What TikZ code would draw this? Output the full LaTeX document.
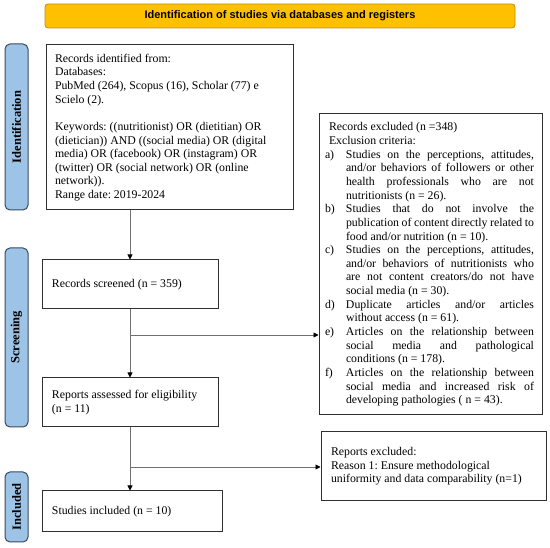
\documentclass[tikz,border=0pt]{standalone}
\usepackage{fontspec}
\setmainfont{Liberation Serif}
\setsansfont{Liberation Sans}
\usetikzlibrary{arrows.meta}
\definecolor{gold}{HTML}{FFC000}
\definecolor{goldline}{HTML}{C09100}
\definecolor{barfill}{HTML}{9DC3E6}
\definecolor{barline}{HTML}{3A4A5C}
\definecolor{conn}{HTML}{707070}
\definecolor{boxline}{HTML}{303030}
\frenchspacing
\newcommand\exitem[2]{\makebox[21pt][l]{#1}\makebox[188pt][s]{#2}}
\newcommand\exjust[1]{\hspace*{21pt}\makebox[188pt][s]{#1}}
\newcommand\exlast[1]{\hspace*{21pt}\makebox[188pt][l]{#1}}
\begin{document}
\begin{tikzpicture}[x=1pt,y=-1pt,
 box/.style={draw=boxline, line width=1pt, inner ysep=0pt, align=left,
   font=\fontsize{11.8}{13.65}\selectfont,
   execute at begin node={\spaceskip=0pt\xspaceskip=0pt}},
 bar/.style={draw=barline, fill=barfill, rounded corners=5pt, line width=1pt,
   inner sep=0pt, rotate=90, font=\fontsize{12.5}{14}\selectfont\bfseries},
 titlebox/.style={draw=goldline, fill=gold, rounded corners=3pt, line width=0.8pt,
   inner sep=0pt, font=\sffamily\bfseries\fontsize{11}{13}\selectfont},
 link/.style={draw=conn, line width=0.9pt},
 arr/.style={link, -{Triangle[color=black,length=5pt,width=5pt]}}
]
\useasboundingbox (0,0) rectangle (550,548);
\fill[white] (0,0) rectangle (550,548);

% title
\node[titlebox, minimum width=470pt, minimum height=24pt] (title) at (280,16)
  {Identification of studies via databases and registers};

% side bars
\node[bar, minimum width=166pt, minimum height=23pt] (idbar) at (16.5,127) {Identification};
\node[bar, minimum width=179pt, minimum height=23pt] (scbar) at (16.5,337.5) {Screening};
\node[bar, minimum width=70pt, minimum height=23pt] (inbar) at (16.5,507) {Included};

% boxes
\node[box, inner xsep=9pt, text width=229pt, minimum width=247pt, minimum height=165pt]
  (ident) at (169.5,127.5)
  {Records identified from:\\
   Databases:\\
   PubMed (264), Scopus (16), Scholar (77) e\\
   Scielo (2).\\[13.65pt]
   Keywords: ((nutritionist) OR (dietitian) OR\\
   (dietician)) AND ((social media) OR (digital\\
   media) OR (facebook) OR (instagram) OR\\
   (twitter) OR (social network) OR (online\\
   network)).\\
   Range date: 2019-2024};

\node[box, inner xsep=10pt, text width=156pt, minimum width=176pt, minimum height=49pt]
  (screen) at (130,284.5) {Records screened (n = 359)};

\node[box, inner xsep=10pt, text width=156pt, minimum width=176pt, minimum height=49pt]
  (assess) at (130,402.5) {Reports assessed for eligibility\\(n = 11)};

\node[box, inner xsep=10pt, text width=160pt, minimum width=180pt, minimum height=41pt]
  (incl) at (132,511.5) {Studies included (n = 10)};

\node[box, inner xsep=6pt, text width=211pt, minimum width=223pt, minimum height=301pt]
  (excl) at (430.5,264.5)
  {\hspace*{4pt}Records excluded (n =348)\\
   \hspace*{4pt}Exclusion criteria:\\
   \exitem{a)}{Studies on the perceptions, attitudes,}\\
   \exjust{and/or behaviors of followers or other}\\
   \exjust{health professionals who are not}\\
   \exlast{nutritionists (n = 26).}\\
   \exitem{b)}{Studies that do not involve the}\\
   \exjust{publication of content directly related to}\\
   \exlast{food and/or nutrition (n = 10).}\\
   \exitem{c)}{Studies on the perceptions, attitudes,}\\
   \exjust{and/or behaviors of nutritionists who}\\
   \exjust{are not content creators/do not have}\\
   \exlast{social media (n = 30).}\\
   \exitem{d)}{Duplicate articles and/or articles}\\
   \exlast{without access (n = 61).}\\
   \exitem{e)}{Articles on the relationship between}\\
   \exjust{social media and pathological}\\
   \exlast{conditions (n = 178).}\\
   \exitem{f)}{Articles on the relationship between}\\
   \exjust{social media and increased risk of}\\
   \exlast{developing pathologies ( n = 43).}};

\node[box, inner xsep=10pt, text width=205pt, minimum width=225pt, minimum height=69pt]
  (rex) at (433.5,466.5)
  {Reports excluded:\\
   Reason 1: Ensure methodological\\
   uniformity and data comparability (n=1)};

% connectors
\coordinate (br1) at (130,335);
\coordinate (br2) at (130,467);
\draw[arr] (ident.south -| screen.north) -- (screen.north);
\draw[arr] (screen.south) -- (assess.north);
\draw[arr] (br1) -- (br1 -| excl.west);
\draw[arr] (assess.south) -- (assess.south |- incl.north);
\draw[arr] (br2) -- (br2 -| rex.west);
\end{tikzpicture}
\end{document}
